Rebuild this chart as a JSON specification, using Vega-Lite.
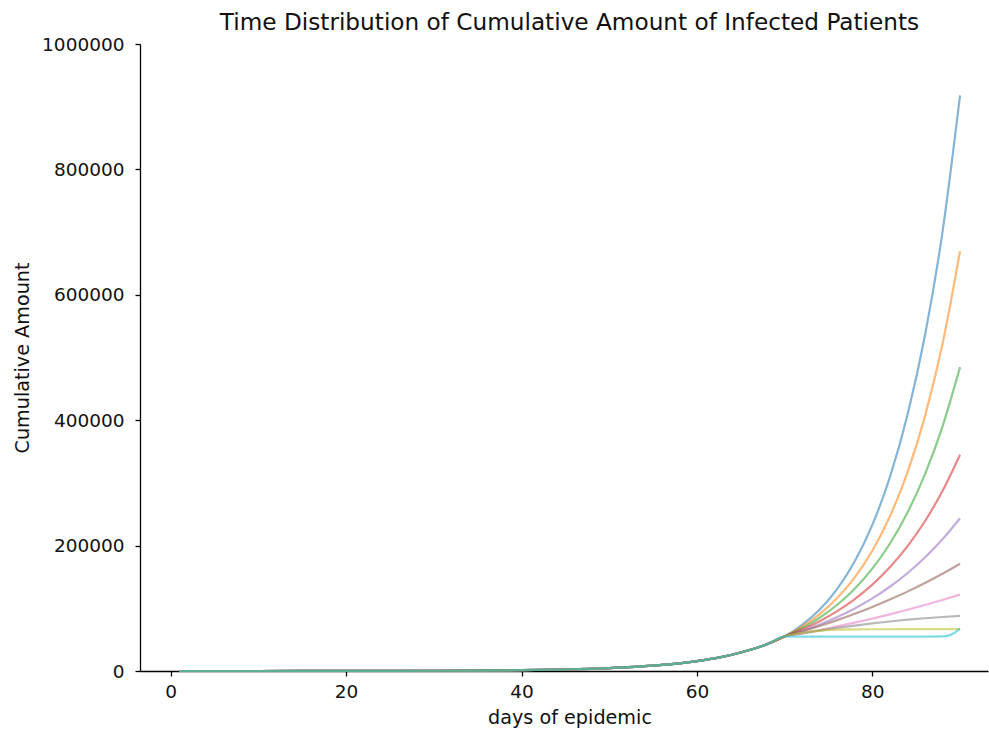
{
  "$schema": "https://vega.github.io/schema/vega-lite/v6.json",
  "width": 848,
  "height": 627,
  "autosize": {"type": "none"},
  "padding": {"left": 140, "top": 44, "right": 1, "bottom": 63},
  "background": "white",
  "config": {"view": {"stroke": null}, "font": "DejaVu Sans"},
  "title": {
    "text": "Time Distribution of Cumulative Amount of Infected Patients",
    "font": "DejaVu Sans",
    "fontSize": 23.2,
    "fontWeight": "normal",
    "color": "#111",
    "anchor": "middle",
    "frame": "group",
    "dx": 5.5,
    "dy": 24.5,
    "baseline": "alphabetic",
    "offset": 6
  },
  "datasets": {
    "runs": [
      {"s":"s01","d":1,"v":10},{"s":"s01","d":10,"v":30},{"s":"s01","d":20,"v":106},{"s":"s01","d":30,"v":370},{"s":"s01","d":35,"v":690},{"s":"s01","d":40,"v":1290},{"s":"s01","d":45,"v":2420},{"s":"s01","d":50,"v":4510},{"s":"s01","d":55,"v":8440},{"s":"s01","d":60,"v":15800},{"s":"s01","d":62,"v":20200},{"s":"s01","d":64,"v":26000},{"s":"s01","d":66,"v":33400},{"s":"s01","d":68,"v":42800},{"s":"s01","d":70,"v":55000},
      {"s":"s01","d":72,"v":73500},{"s":"s01","d":74,"v":98000},{"s":"s01","d":76,"v":131000},{"s":"s01","d":78,"v":175000},{"s":"s01","d":80,"v":233000},{"s":"s01","d":82,"v":309000},{"s":"s01","d":84,"v":408000},{"s":"s01","d":86,"v":535000},{"s":"s01","d":88,"v":700000},{"s":"s01","d":90,"v":918000},

      {"s":"s02","d":1,"v":10},{"s":"s02","d":10,"v":30},{"s":"s02","d":20,"v":106},{"s":"s02","d":30,"v":370},{"s":"s02","d":35,"v":690},{"s":"s02","d":40,"v":1290},{"s":"s02","d":45,"v":2420},{"s":"s02","d":50,"v":4510},{"s":"s02","d":55,"v":8440},{"s":"s02","d":60,"v":15800},{"s":"s02","d":62,"v":20200},{"s":"s02","d":64,"v":26000},{"s":"s02","d":66,"v":33400},{"s":"s02","d":68,"v":42800},{"s":"s02","d":70,"v":55000},
      {"s":"s02","d":72,"v":70610},{"s":"s02","d":74,"v":90660},{"s":"s02","d":76,"v":116400},{"s":"s02","d":78,"v":149450},{"s":"s02","d":80,"v":191880},{"s":"s02","d":82,"v":246350},{"s":"s02","d":84,"v":316290},{"s":"s02","d":86,"v":406080},{"s":"s02","d":88,"v":521370},{"s":"s02","d":90,"v":669390},

      {"s":"s03","d":1,"v":10},{"s":"s03","d":10,"v":30},{"s":"s03","d":20,"v":106},{"s":"s03","d":30,"v":370},{"s":"s03","d":35,"v":690},{"s":"s03","d":40,"v":1290},{"s":"s03","d":45,"v":2420},{"s":"s03","d":50,"v":4510},{"s":"s03","d":55,"v":8440},{"s":"s03","d":60,"v":15800},{"s":"s03","d":62,"v":20200},{"s":"s03","d":64,"v":26000},{"s":"s03","d":66,"v":33400},{"s":"s03","d":68,"v":42800},{"s":"s03","d":70,"v":55000},
      {"s":"s03","d":72,"v":68370},{"s":"s03","d":74,"v":84990},{"s":"s03","d":76,"v":105660},{"s":"s03","d":78,"v":131340},{"s":"s03","d":80,"v":163270},{"s":"s03","d":82,"v":202960},{"s":"s03","d":84,"v":252300},{"s":"s03","d":86,"v":313630},{"s":"s03","d":88,"v":389880},{"s":"s03","d":90,"v":484660},

      {"s":"s04","d":1,"v":10},{"s":"s04","d":10,"v":30},{"s":"s04","d":20,"v":106},{"s":"s04","d":30,"v":370},{"s":"s04","d":35,"v":690},{"s":"s04","d":40,"v":1290},{"s":"s04","d":45,"v":2420},{"s":"s04","d":50,"v":4510},{"s":"s04","d":55,"v":8440},{"s":"s04","d":60,"v":15800},{"s":"s04","d":62,"v":20200},{"s":"s04","d":64,"v":26000},{"s":"s04","d":66,"v":33400},{"s":"s04","d":68,"v":42800},{"s":"s04","d":70,"v":55000},
      {"s":"s04","d":72,"v":66080},{"s":"s04","d":74,"v":79400},{"s":"s04","d":76,"v":95400},{"s":"s04","d":78,"v":114630},{"s":"s04","d":80,"v":137720},{"s":"s04","d":82,"v":165480},{"s":"s04","d":84,"v":198820},{"s":"s04","d":86,"v":238890},{"s":"s04","d":88,"v":287030},{"s":"s04","d":90,"v":344870},

      {"s":"s05","d":1,"v":10},{"s":"s05","d":10,"v":30},{"s":"s05","d":20,"v":106},{"s":"s05","d":30,"v":370},{"s":"s05","d":35,"v":690},{"s":"s05","d":40,"v":1290},{"s":"s05","d":45,"v":2420},{"s":"s05","d":50,"v":4510},{"s":"s05","d":55,"v":8440},{"s":"s05","d":60,"v":15800},{"s":"s05","d":62,"v":20200},{"s":"s05","d":64,"v":26000},{"s":"s05","d":66,"v":33400},{"s":"s05","d":68,"v":42800},{"s":"s05","d":70,"v":55000},
      {"s":"s05","d":72,"v":63830},{"s":"s05","d":74,"v":74070},{"s":"s05","d":76,"v":85960},{"s":"s05","d":78,"v":99760},{"s":"s05","d":80,"v":115770},{"s":"s05","d":82,"v":134350},{"s":"s05","d":84,"v":155910},{"s":"s05","d":86,"v":180940},{"s":"s05","d":88,"v":209980},{"s":"s05","d":90,"v":243680},

      {"s":"s06","d":1,"v":10},{"s":"s06","d":10,"v":30},{"s":"s06","d":20,"v":106},{"s":"s06","d":30,"v":370},{"s":"s06","d":35,"v":690},{"s":"s06","d":40,"v":1290},{"s":"s06","d":45,"v":2420},{"s":"s06","d":50,"v":4510},{"s":"s06","d":55,"v":8440},{"s":"s06","d":60,"v":15800},{"s":"s06","d":62,"v":20200},{"s":"s06","d":64,"v":26000},{"s":"s06","d":66,"v":33400},{"s":"s06","d":68,"v":42800},{"s":"s06","d":70,"v":55000},
      {"s":"s06","d":72,"v":63100},{"s":"s06","d":74,"v":71800},{"s":"s06","d":76,"v":81200},{"s":"s06","d":78,"v":91300},{"s":"s06","d":80,"v":102200},{"s":"s06","d":82,"v":114000},{"s":"s06","d":84,"v":126600},{"s":"s06","d":86,"v":140300},{"s":"s06","d":88,"v":155000},{"s":"s06","d":90,"v":171000},

      {"s":"s07","d":1,"v":10},{"s":"s07","d":10,"v":30},{"s":"s07","d":20,"v":106},{"s":"s07","d":30,"v":370},{"s":"s07","d":35,"v":690},{"s":"s07","d":40,"v":1290},{"s":"s07","d":45,"v":2420},{"s":"s07","d":50,"v":4510},{"s":"s07","d":55,"v":8440},{"s":"s07","d":60,"v":15800},{"s":"s07","d":62,"v":20200},{"s":"s07","d":64,"v":26000},{"s":"s07","d":66,"v":33400},{"s":"s07","d":68,"v":42800},{"s":"s07","d":70,"v":55000},
      {"s":"s07","d":72,"v":60100},{"s":"s07","d":74,"v":65400},{"s":"s07","d":76,"v":71200},{"s":"s07","d":78,"v":77200},{"s":"s07","d":80,"v":83600},{"s":"s07","d":82,"v":90400},{"s":"s07","d":84,"v":97600},{"s":"s07","d":86,"v":105200},{"s":"s07","d":88,"v":113300},{"s":"s07","d":90,"v":121900},

      {"s":"s08","d":1,"v":10},{"s":"s08","d":10,"v":30},{"s":"s08","d":20,"v":106},{"s":"s08","d":30,"v":370},{"s":"s08","d":35,"v":690},{"s":"s08","d":40,"v":1290},{"s":"s08","d":45,"v":2420},{"s":"s08","d":50,"v":4510},{"s":"s08","d":55,"v":8440},{"s":"s08","d":60,"v":15800},{"s":"s08","d":62,"v":20200},{"s":"s08","d":64,"v":26000},{"s":"s08","d":66,"v":33400},{"s":"s08","d":68,"v":42800},{"s":"s08","d":70,"v":55000},
      {"s":"s08","d":72,"v":60000},{"s":"s08","d":74,"v":64500},{"s":"s08","d":76,"v":68700},{"s":"s08","d":78,"v":72500},{"s":"s08","d":80,"v":76000},{"s":"s08","d":82,"v":79000},{"s":"s08","d":84,"v":81800},{"s":"s08","d":86,"v":84100},{"s":"s08","d":88,"v":86100},{"s":"s08","d":90,"v":87800},

      {"s":"s09","d":1,"v":10},{"s":"s09","d":10,"v":30},{"s":"s09","d":20,"v":106},{"s":"s09","d":30,"v":370},{"s":"s09","d":35,"v":690},{"s":"s09","d":40,"v":1290},{"s":"s09","d":45,"v":2420},{"s":"s09","d":50,"v":4510},{"s":"s09","d":55,"v":8440},{"s":"s09","d":60,"v":15800},{"s":"s09","d":62,"v":20200},{"s":"s09","d":64,"v":26000},{"s":"s09","d":66,"v":33400},{"s":"s09","d":68,"v":42800},{"s":"s09","d":70,"v":55000},
      {"s":"s09","d":72,"v":61000},{"s":"s09","d":74,"v":64500},{"s":"s09","d":76,"v":66000},{"s":"s09","d":78,"v":66500},{"s":"s09","d":80,"v":66600},{"s":"s09","d":82,"v":66600},{"s":"s09","d":84,"v":66700},{"s":"s09","d":86,"v":66800},{"s":"s09","d":88,"v":66800},{"s":"s09","d":90,"v":66900},

      {"s":"s10","d":1,"v":10},{"s":"s10","d":10,"v":30},{"s":"s10","d":20,"v":106},{"s":"s10","d":30,"v":370},{"s":"s10","d":35,"v":690},{"s":"s10","d":40,"v":1290},{"s":"s10","d":45,"v":2420},{"s":"s10","d":50,"v":4510},{"s":"s10","d":55,"v":8440},{"s":"s10","d":60,"v":15800},{"s":"s10","d":62,"v":20200},{"s":"s10","d":64,"v":26000},{"s":"s10","d":66,"v":33400},{"s":"s10","d":68,"v":42800},{"s":"s10","d":70,"v":55000},
      {"s":"s10","d":72,"v":54900},{"s":"s10","d":74,"v":54800},{"s":"s10","d":76,"v":54800},{"s":"s10","d":78,"v":54800},{"s":"s10","d":80,"v":54800},{"s":"s10","d":82,"v":54800},{"s":"s10","d":84,"v":54800},{"s":"s10","d":86,"v":54900},{"s":"s10","d":88,"v":55100},{"s":"s10","d":89,"v":58000},{"s":"s10","d":90,"v":67500}
    ]
  },
  "layer": [
    {
      "data": {"name": "runs"},
      "mark": {"type": "line", "strokeWidth": 2.2, "opacity": 0.55, "interpolate": "monotone"},
      "encoding": {
        "x": {
          "field": "d",
          "type": "quantitative",
          "scale": {"domain": [-3.5, 93.19], "nice": false, "zero": false},
          "axis": {
            "values": [0, 20, 40, 60, 80],
            "title": "days of epidemic",
            "grid": false,
            "tickSize": 5,
            "tickWidth": 1.3,
            "tickColor": "#000",
            "domainColor": "#000",
            "domainWidth": 1.3,
            "labelFont": "DejaVu Sans",
            "labelFontSize": 18.5,
            "labelColor": "#111",
            "labelPadding": 6,
            "labelFlush": false,
            "labelOverlap": false,
            "titleFont": "DejaVu Sans",
            "titleFontSize": 19.2,
            "titleFontWeight": "normal",
            "titleColor": "#111",
            "titleBaseline": "alphabetic",
            "titleAlign": "center",
            "titleX": 429.5,
            "titleY": 52
          }
        },
        "y": {
          "field": "v",
          "type": "quantitative",
          "scale": {"domain": [0, 1000000], "nice": false, "zero": false},
          "axis": {
            "values": [0, 200000, 400000, 600000, 800000, 1000000],
            "format": "d",
            "title": "Cumulative Amount",
            "grid": false,
            "tickSize": 5,
            "tickWidth": 1.3,
            "tickColor": "#000",
            "domainColor": "#000",
            "domainWidth": 1.3,
            "labelFont": "DejaVu Sans",
            "labelFontSize": 18.5,
            "labelColor": "#111",
            "labelPadding": 11,
            "labelFlush": false,
            "labelOverlap": false,
            "titleFont": "DejaVu Sans",
            "titleFontSize": 19.2,
            "titleFontWeight": "normal",
            "titleColor": "#111",
            "titleBaseline": "alphabetic",
            "titleX": -111.7
          }
        },
        "color": {
          "field": "s",
          "type": "nominal",
          "scale": {
            "domain": ["s01","s02","s03","s04","s05","s06","s07","s08","s09","s10"],
            "range": ["#1f77b4","#ff7f0e","#2ca02c","#d62728","#9467bd","#8c564b","#e377c2","#7f7f7f","#bcbd22","#17becf"]
          },
          "legend": null
        }
      }
    },
    {
      "mark": {"type": "rule", "color": "#000", "strokeWidth": 1.3},
      "encoding": {"y": {"datum": 1000000}}
    }
  ]
}
